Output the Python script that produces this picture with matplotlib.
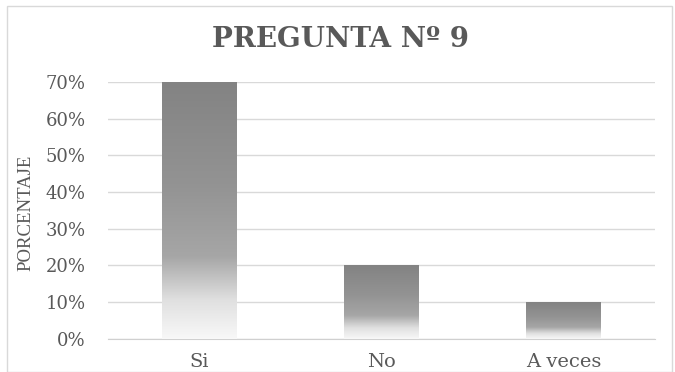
import numpy as np
import matplotlib.pyplot as plt
from matplotlib.colors import LinearSegmentedColormap
from matplotlib.ticker import PercentFormatter, MultipleLocator
from matplotlib.patches import Rectangle

# Datos de la pregunta 9
categorias = ['Si', 'No', 'A veces']
porcentajes = [0.70, 0.20, 0.10]
titulo = 'PREGUNTA Nº 9'

plt.rcParams['font.family'] = ['DejaVu Serif', 'Liberation Serif']
texto = '#595959'

fig = plt.figure(figsize=(6.75, 3.72), dpi=100)
ax = fig.add_axes([0.16, 0.089, 0.81, 0.691])

# Degradado gris -> blanco para cada barra
cmap = LinearSegmentedColormap.from_list('gris', [
    (0.0, '#f8f8f8'), (0.15, '#e0e0e0'), (0.32, '#a6a6a6'),
    (0.6, '#939393'), (1.0, '#838383')])
grad = np.linspace(0, 1, 256).reshape(-1, 1)

x = np.arange(len(categorias))
ancho = 0.41
barras = ax.bar(x, porcentajes, width=ancho, color='none', zorder=3)
for b in barras:
    x0, w, h = b.get_x(), b.get_width(), b.get_height()
    ax.imshow(grad, cmap=cmap, origin='lower', aspect='auto',
              extent=(x0, x0 + w, 0, h), zorder=3, interpolation='bilinear')

ax.set_xlim(-0.5, len(categorias) - 0.5)
ax.set_ylim(0, 0.70)
ax.yaxis.set_major_locator(MultipleLocator(0.10))
ax.yaxis.set_major_formatter(PercentFormatter(1.0, decimals=0))
ax.set_xticks(x)
ax.set_xticklabels(categorias)

ax.grid(axis='y', color='#d9d9d9', linewidth=1, zorder=0)
ax.set_axisbelow(True)
for s in ['top', 'right', 'left']:
    ax.spines[s].set_visible(False)
ax.spines['bottom'].set_color('#d0d0d0')
ax.tick_params(axis='both', length=0, labelsize=13, colors=texto)
ax.tick_params(axis='y', pad=16)
ax.tick_params(axis='x', pad=10, labelsize=14)

ax.set_ylabel('PORCENTAJE', fontsize=13.5, color=texto,
              family=['Liberation Serif'])
ax.yaxis.set_label_coords(-0.135, 0.49)

fig.text(0.505, 0.895, titulo, ha='center', va='center', fontsize=20,
         fontweight='bold', color=texto)

# Borde del área del gráfico
fig.patches.append(Rectangle((0.011, 0.0), 0.985, 0.985, transform=fig.transFigure,
                             fill=False, edgecolor='#d9d9d9', linewidth=1))

fig.savefig('out.png', dpi=100)
